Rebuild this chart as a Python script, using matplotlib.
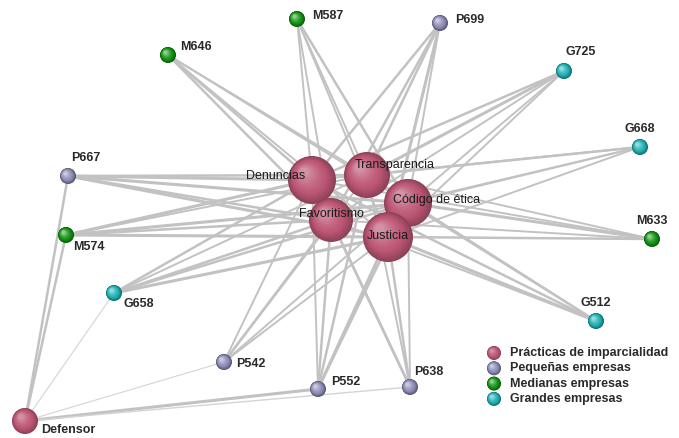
import matplotlib
matplotlib.use("Agg")
import matplotlib.pyplot as plt
from matplotlib.patches import Circle
import numpy as np

# ---- nodes (layout coordinates, y grows downward) ----
practices = ["Denuncias", "Transparencia", "Código de ética", "Favoritismo", "Justicia"]
practice_x = [312, 367, 408, 331, 388]
practice_y = [181, 176, 204, 221, 238]
practice_r = [24, 23, 24, 22, 25]

firms = ["P667", "M574", "G658", "M646", "M587", "P699", "G725", "G668",
         "M633", "G512", "P542", "P552", "P638"]
firm_x = [68, 66, 114, 168, 297, 440, 564, 640, 652, 596, 224, 318, 410]
firm_y = [177, 236, 294, 56, 20, 24, 72, 148, 240, 322, 363, 390, 388]
firm_group = ["P", "M", "G", "M", "M", "P", "G", "G", "M", "G", "P", "P", "P"]

defensor = ("Defensor", 25, 422)

# edge weights firm -> each practice (Denuncias, Transp., Código, Favor., Justicia)
weights = {
    "P667": [2.2, 1.8, 2.2, 1.8, 2.2],
    "M574": [2.2, 1.4, 2.2, 1.8, 2.2],
    "G658": [1.8, 1.4, 1.8, 1.8, 2.2],
    "M646": [1.8, 1.4, 1.4, 1.8, 1.4],
    "M587": [1.4, 1.4, 1.8, 1.4, 1.4],
    "P699": [1.8, 1.8, 1.4, 1.8, 2.2],
    "G725": [1.8, 2.2, 1.4, 1.4, 1.4],
    "G668": [1.4, 1.8, 1.4, 1.4, 1.4],
    "M633": [1.4, 1.4, 2.2, 1.4, 1.8],
    "G512": [1.8, 1.4, 1.8, 1.4, 2.2],
    "P542": [1.4, 1.4, 1.4, 1.8, 1.4],
    "P552": [1.4, 1.8, 1.8, 1.8, 2.2],
    "P638": [1.8, 1.4, 1.4, 1.8, 1.8],
}
defensor_links = ["P667", "M574", "G658", "P542", "P552", "P638"]
defensor_w = [1.8, 1.8, 0.8, 0.8, 2.2, 1.0]

colors = {
    "X": "#bd5775",   # prácticas
    "P": "#8d8cb8",   # pequeñas
    "M": "#149414",   # medianas
    "G": "#1fb2b4",   # grandes
}
legend_labels = ["Prácticas de imparcialidad", "Pequeñas empresas",
                 "Medianas empresas", "Grandes empresas"]

# label placement (dx, dy, ha)
practice_lab = [(-36, -5, "center"), (28, -11, "center"), (29, -4, "center"),
                (0, -7, "center"), (0, -2, "center")]
firm_lab = {
    "P667": (18, -19, "center"), "M574": (7, 11, "left"), "G658": (9, 10, "left"),
    "M646": (12, -9, "left"), "M587": (15, -4, "left"), "P699": (15, -4, "left"),
    "G725": (17, -20, "center"), "G668": (0, -19, "center"), "M633": (0, -19, "center"),
    "G512": (0, -19, "center"), "P542": (12, 1, "left"), "P552": (13, -8, "left"),
    "P638": (4, -16, "left"),
}


def sphere(ax, x, y, r, base, z, soft=False):
    c = np.array(matplotlib.colors.to_rgb(base))
    dark = c * (0.75 if soft else 0.62)
    light = c + (1 - c) * (0.35 if soft else 0.55)
    n = 18
    for i in range(n):
        t = i / (n - 1)
        rr = r * (1 - 0.82 * t)
        ox, oy = -0.33 * r * t, -0.33 * r * t
        if t < 0.35:
            col = dark + (c - dark) * (t / 0.35)
        else:
            col = c + (light - c) * ((t - 0.35) / 0.65) ** 1.3
        ax.add_patch(Circle((x + ox, y + oy), rr, facecolor=np.clip(col, 0, 1),
                            edgecolor="none", zorder=z))


fig = plt.figure(figsize=(6.79, 4.39), dpi=100)
ax = fig.add_axes([0, 0, 1, 1])
ax.set_xlim(0, 679)
ax.set_ylim(439, 0)
ax.set_aspect("equal")
ax.axis("off")

ecol = "#c2c2c2"
for f, fx, fy in zip(firms, firm_x, firm_y):
    for w, px, py in zip(weights[f], practice_x, practice_y):
        ax.plot([fx, px], [fy, py], color=ecol, lw=w, zorder=1,
                solid_capstyle="round")
for f, w in zip(defensor_links, defensor_w):
    i = firms.index(f)
    ax.plot([defensor[1], firm_x[i]], [defensor[2], firm_y[i]],
            color=ecol if w > 1 else "#d4d4d4", lw=w, zorder=1)

for f, fx, fy, g in zip(firms, firm_x, firm_y, firm_group):
    sphere(ax, fx, fy, 8, colors[g], 3)
    dx, dy, ha = firm_lab[f]
    ax.text(fx + dx, fy + dy, f, ha=ha, va="center", fontsize=9,
            fontweight="bold", color="#2a2a2a", family="Liberation Sans", zorder=10)

for i, (p, px, py, r) in enumerate(zip(practices, practice_x, practice_y, practice_r)):
    sphere(ax, px, py, r, colors["X"], 4 + i, soft=True)
for p, px, py, (dx, dy, ha) in zip(practices, practice_x, practice_y, practice_lab):
    ax.text(px + dx, py + dy, p, ha=ha, va="center", fontsize=9,
            color="#1a1a1a", family="Liberation Sans", zorder=12)

sphere(ax, defensor[1], defensor[2], 13, colors["X"], 4, soft=True)
ax.text(defensor[1] + 16, defensor[2] + 8, defensor[0], ha="left", va="center",
        fontsize=9, fontweight="bold", color="#2a2a2a", family="Liberation Sans",
        zorder=10)

# legend
for k, (g, lab) in enumerate(zip(["X", "P", "M", "G"], legend_labels)):
    ly = 354 + k * 15.3
    sphere(ax, 494, ly, 7, colors[g], 3, soft=(g == "X"))
    ax.text(510, ly - 1, lab, ha="left", va="center", fontsize=9,
            fontweight="bold", color="#2a2a2a", family="Liberation Sans", zorder=10)

fig.savefig("out.png", dpi=100, facecolor="white")
